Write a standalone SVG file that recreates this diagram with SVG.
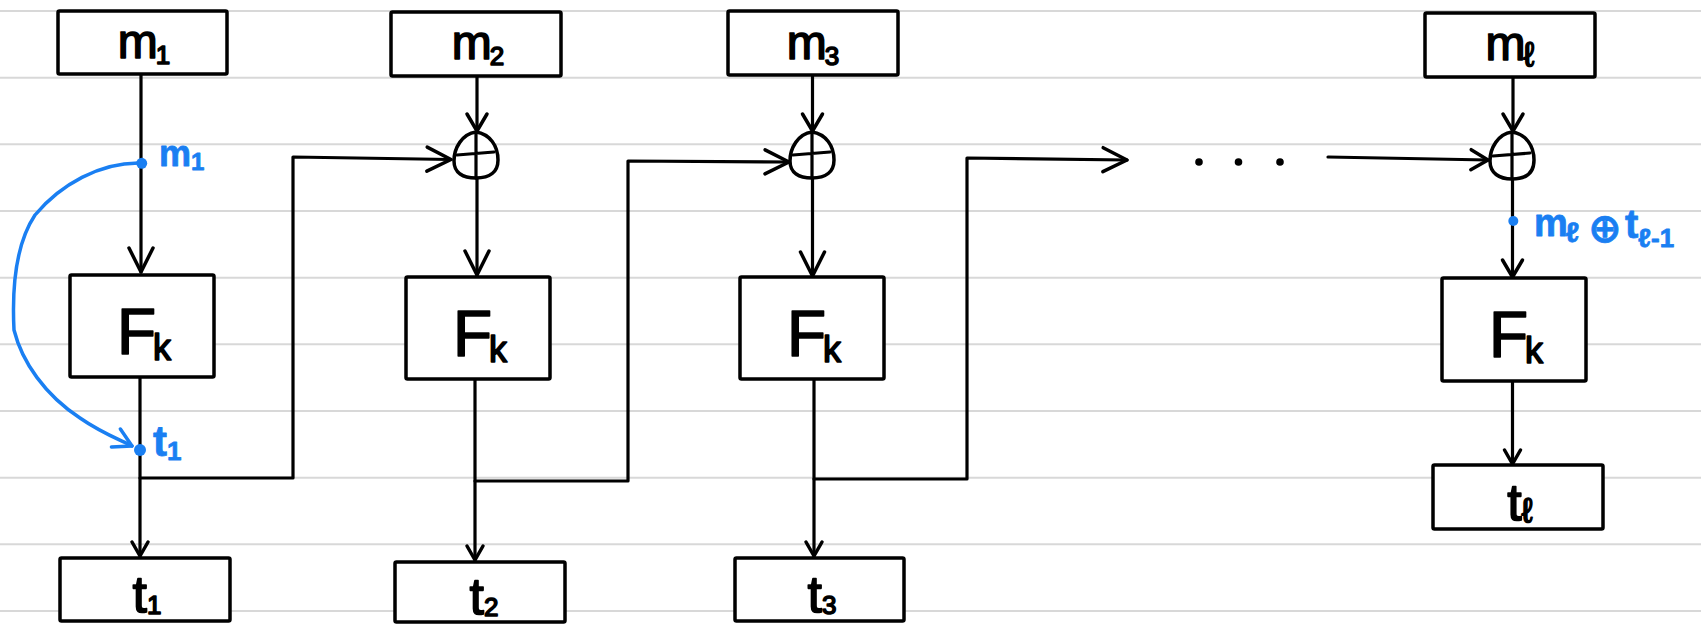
<svg xmlns="http://www.w3.org/2000/svg" width="1701" height="624" viewBox="0 0 1701 624">
<style>
.rule{stroke:#d8d8d8;stroke-width:2}
.box{fill:#fff;stroke:#000;stroke-width:3.5;stroke-linejoin:round}
.lbl{font-family:"Liberation Sans","DejaVu Sans",sans-serif;fill:#000;stroke:#000;stroke-width:1.6;stroke-linejoin:round;text-anchor:middle}
.m{font-size:48px}
.f{font-size:64px}
.t{font-size:52px}
.sub{font-size:26px}
.ell{font-size:34px}
.k{font-size:36px}
.wire{fill:none;stroke:#000;stroke-width:3.2;stroke-linecap:round;stroke-linejoin:round}
.xor{fill:#fff;stroke:#000;stroke-width:3.5;stroke-linecap:round}
.blue{fill:#1a7ff2}
.bl{font-family:"Liberation Sans","DejaVu Sans",sans-serif;font-weight:bold;fill:#1a7ff2;stroke:#1a7ff2;stroke-width:0.8;stroke-linejoin:round}
</style>
<defs>
<marker id="big" markerUnits="userSpaceOnUse" markerWidth="30" markerHeight="30" viewBox="0 0 30 30" refX="26" refY="15" orient="auto" overflow="visible">
<path d="M2,3 L26,15 L2,27" fill="none" stroke="#000" stroke-width="3.5" stroke-linecap="round" stroke-linejoin="round"/>
</marker>
<marker id="mid" markerUnits="userSpaceOnUse" markerWidth="24" markerHeight="24" viewBox="0 0 24 24" refX="19" refY="12" orient="auto" overflow="visible">
<path d="M2,2 L19,12 L2,22" fill="none" stroke="#000" stroke-width="3.5" stroke-linecap="round" stroke-linejoin="round"/>
</marker>
<marker id="small" markerUnits="userSpaceOnUse" markerWidth="20" markerHeight="20" viewBox="0 0 20 20" refX="16" refY="10" orient="auto" overflow="visible">
<path d="M2,2 L16,10 L2,18" fill="none" stroke="#000" stroke-width="3.5" stroke-linecap="round" stroke-linejoin="round"/>
</marker>
<marker id="bluehead" markerUnits="userSpaceOnUse" markerWidth="24" markerHeight="24" viewBox="0 0 24 24" refX="20" refY="12" orient="auto" overflow="visible">
<path d="M2,2 L20,12 L2,22" fill="none" stroke="#1a7ff2" stroke-width="3.5" stroke-linecap="round" stroke-linejoin="round"/>
</marker>
</defs>
<rect width="1701" height="624" fill="#fff"/>
<g id="ruling">
<line class="rule" x1="0" y1="11" x2="1701" y2="11"/>
<line class="rule" x1="0" y1="77.7" x2="1701" y2="77.7"/>
<line class="rule" x1="0" y1="144.3" x2="1701" y2="144.3"/>
<line class="rule" x1="0" y1="211" x2="1701" y2="211"/>
<line class="rule" x1="0" y1="277.7" x2="1701" y2="277.7"/>
<line class="rule" x1="0" y1="344.3" x2="1701" y2="344.3"/>
<line class="rule" x1="0" y1="411" x2="1701" y2="411"/>
<line class="rule" x1="0" y1="477.7" x2="1701" y2="477.7"/>
<line class="rule" x1="0" y1="544.3" x2="1701" y2="544.3"/>
<line class="rule" x1="0" y1="611" x2="1701" y2="611"/>
</g>
<g id="connectors">
<path class="wire" d="M141,74 V272" marker-end="url(#big)"/>
<path class="wire" d="M140,377 V556" marker-end="url(#small)"/>
<path class="wire" d="M140,478 H293 V157 L451,159.5" marker-end="url(#big)"/>
<path class="wire" d="M477,76 V131" marker-end="url(#mid)"/>
<path class="wire" d="M477,178 V275" marker-end="url(#big)"/>
<path class="wire" d="M475,379 V560" marker-end="url(#small)"/>
<path class="wire" d="M475,481 H628 V161 L789,162" marker-end="url(#big)"/>
<path class="wire" d="M812.5,75 V131" marker-end="url(#mid)"/>
<path class="wire" d="M812.5,178 V276" marker-end="url(#big)"/>
<path class="wire" d="M814,379 V556" marker-end="url(#small)"/>
<path class="wire" d="M814,479 H967 V158 L1127,160" marker-end="url(#big)"/>
<path class="wire" d="M1328,157 L1488,160" marker-end="url(#mid)"/>
<path class="wire" d="M1513,77 V131" marker-end="url(#mid)"/>
<path class="wire" d="M1512.5,179 V277" marker-end="url(#mid)"/>
<path class="wire" d="M1512.5,381 V464" marker-end="url(#small)"/>
</g>
<g id="m1"><rect class="box" x="58" y="11" width="169" height="63" rx="1.5"/><text class="lbl m" x="144" y="58">m<tspan class="sub" dx="-2" dy="6">1</tspan></text></g>
<g id="m2"><rect class="box" x="391" y="12" width="170" height="64" rx="1.5"/><text class="lbl m" x="478" y="59">m<tspan class="sub" dx="-2" dy="6">2</tspan></text></g>
<g id="m3"><rect class="box" x="728" y="11" width="170" height="64" rx="1.5"/><text class="lbl m" x="813" y="59">m<tspan class="sub" dx="-2" dy="6">3</tspan></text></g>
<g id="ml"><rect class="box" x="1425" y="13" width="170" height="64" rx="1.5"/><text class="lbl m" x="1510" y="60">m<tspan class="ell" dx="-2" dy="6">ℓ</tspan></text></g>
<g id="xor2"><path class="xor" d="M476,132 C462,134 454,148 454,161 C454,173 463,178 476,178 C490,178 498,172 498,160 C498,146 490,134 476,132 Z"/><path class="wire" d="M476,132 V178 M457,155 L494,152"/></g>
<g id="xor3"><path class="xor" d="M812,132 C798,134 790,148 790,161 C790,173 799,178 812,178 C826,178 834,172 834,160 C834,146 826,134 812,132 Z"/><path class="wire" d="M812,132 V178 M793,155 L830,152"/></g>
<g id="xorl"><path class="xor" d="M1512,132 C1498,134 1490,148 1490,161 C1490,173 1499,179 1512,179 C1526,179 1534,173 1534,160 C1534,146 1526,134 1512,132 Z"/><path class="wire" d="M1512,132 V179 M1493,156 L1530,153"/></g>
<g id="f1"><rect class="box" x="70" y="275" width="144" height="102" rx="1.5"/><text class="lbl f" x="144" y="354">F<tspan class="k" dx="-3" dy="6">k</tspan></text></g>
<g id="f2"><rect class="box" x="406" y="277" width="144" height="102" rx="1.5"/><text class="lbl f" x="480" y="356">F<tspan class="k" dx="-3" dy="6">k</tspan></text></g>
<g id="f3"><rect class="box" x="740" y="277" width="144" height="102" rx="1.5"/><text class="lbl f" x="814" y="356">F<tspan class="k" dx="-3" dy="6">k</tspan></text></g>
<g id="fl"><rect class="box" x="1442" y="278" width="144" height="103" rx="1.5"/><text class="lbl f" x="1516" y="357">F<tspan class="k" dx="-3" dy="6">k</tspan></text></g>
<g id="t1"><rect class="box" x="60" y="558" width="170" height="63" rx="1.5"/><text class="lbl t" x="147" y="612">t<tspan class="sub" dy="2">1</tspan></text></g>
<g id="t2"><rect class="box" x="395" y="562" width="170" height="60" rx="1.5"/><text class="lbl t" x="484" y="614">t<tspan class="sub" dy="2">2</tspan></text></g>
<g id="t3"><rect class="box" x="735" y="558" width="169" height="63" rx="1.5"/><text class="lbl t" x="822" y="612">t<tspan class="sub" dy="2">3</tspan></text></g>
<g id="tl"><rect class="box" x="1433" y="465" width="170" height="64" rx="1.5"/><text class="lbl t" x="1520" y="520">t<tspan class="ell" dy="2">ℓ</tspan></text></g>
<g id="annotations">
<path d="M141,163 C100,162 60,185 35,215 C15,245 12,290 14,330 C22,362 45,395 80,418 C100,432 118,439 132,446" fill="none" stroke="#1a7ff2" stroke-width="3.5" stroke-linecap="round" marker-end="url(#bluehead)"/>
<circle class="blue" cx="141.7" cy="163.3" r="5.5"/>
<text class="bl" x="159" y="166" font-size="36">m<tspan font-size="24" dy="4">1</tspan></text>
<circle class="blue" cx="140" cy="450" r="6"/>
<text class="bl" x="153" y="456" font-size="42">t<tspan font-size="26" dy="4">1</tspan></text>
<circle class="blue" cx="1513.3" cy="221" r="5"/>
<text class="bl" x="1534" y="236" font-size="38">m<tspan font-size="28" dx="-2" dy="6">ℓ</tspan></text>
<text class="bl" x="1588" y="242" font-size="40">⊕</text>
<text class="bl" x="1625" y="238" font-size="40">t<tspan font-size="26" dy="9">ℓ-1</tspan></text>
</g>
<g id="dots">
<circle cx="1199" cy="162" r="3.8"/>
<circle cx="1238.5" cy="162" r="3.8"/>
<circle cx="1280" cy="162" r="3.8"/>
</g>
</svg>
